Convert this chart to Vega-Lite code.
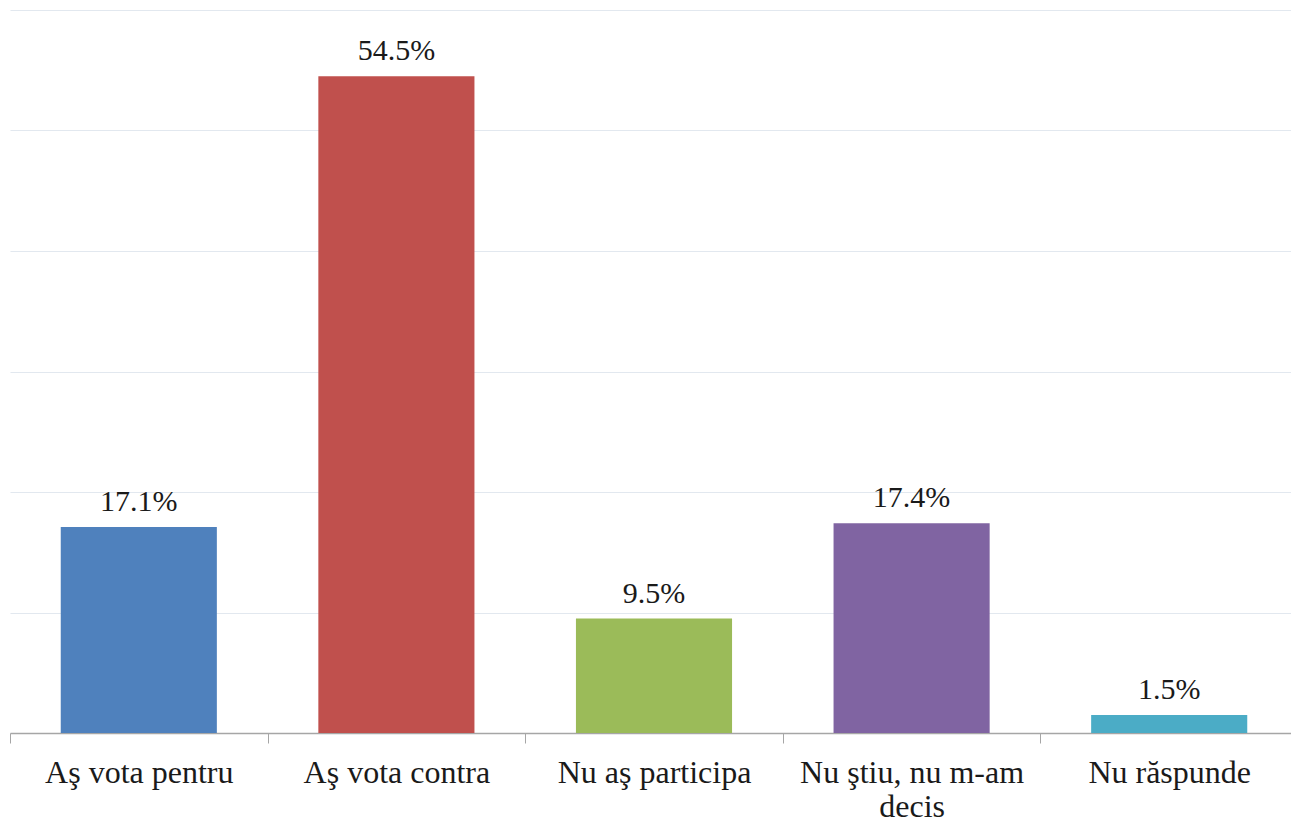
{
  "$schema": "https://vega.github.io/schema/vega-lite/v6.json",
  "autosize": "none",
  "width": 1288,
  "height": 723,
  "padding": {"left": 10, "top": 10, "right": 0, "bottom": 93},
  "background": "white",
  "config": {"view": {"stroke": null}, "font": "Liberation Serif"},
  "data": {"values": [
    {"category": "Aş vota pentru", "value": 0.171},
    {"category": "Aş vota contra", "value": 0.545},
    {"category": "Nu aş participa", "value": 0.095},
    {"category": "Nu ştiu, nu m-am decis", "value": 0.174},
    {"category": "Nu răspunde", "value": 0.015}
  ]},
  "encoding": {
    "x": {"field": "category", "type": "nominal", "sort": null,
      "scale": {"paddingInner": 0, "paddingOuter": 0},
      "axis": {"title": null, "labelAngle": 0, "tickBand": "extent", "tickSize": 10, "tickColor": "#a6a6a6", "domainColor": "#a6a6a6", "domainWidth": 1.5,
        "labelFont": "Liberation Serif", "labelFontSize": 32, "labelColor": "#1a1a1a", "labelPadding": 14, "labelLineHeight": 34, "labelLimit": 400,
        "labelExpr": "datum.label == 'Nu ştiu, nu m-am decis' ? ['Nu ştiu, nu m-am', 'decis'] : datum.label"}},
    "y": {"field": "value", "type": "quantitative", "scale": {"domain": [0, 0.6]},
      "axis": {"title": null, "labels": false, "ticks": false, "domain": false, "values": [0, 0.1, 0.2, 0.3, 0.4, 0.5, 0.6], "gridColor": "#e2e8ef", "gridWidth": 1.2}}
  },
  "layer": [
    {"mark": {"type": "bar", "width": {"band": 0.606}},
     "encoding": {"color": {"field": "category", "type": "nominal", "sort": null, "legend": null,
       "scale": {"range": ["#4F81BD", "#C0504D", "#9BBB59", "#8064A2", "#4BACC6"]}}}},
    {"mark": {"type": "text", "baseline": "bottom", "dy": -10, "fontSize": 30, "font": "Liberation Serif", "color": "#1a1a1a"},
     "encoding": {"text": {"field": "value", "type": "quantitative", "format": ".1%"}}}
  ]
}
